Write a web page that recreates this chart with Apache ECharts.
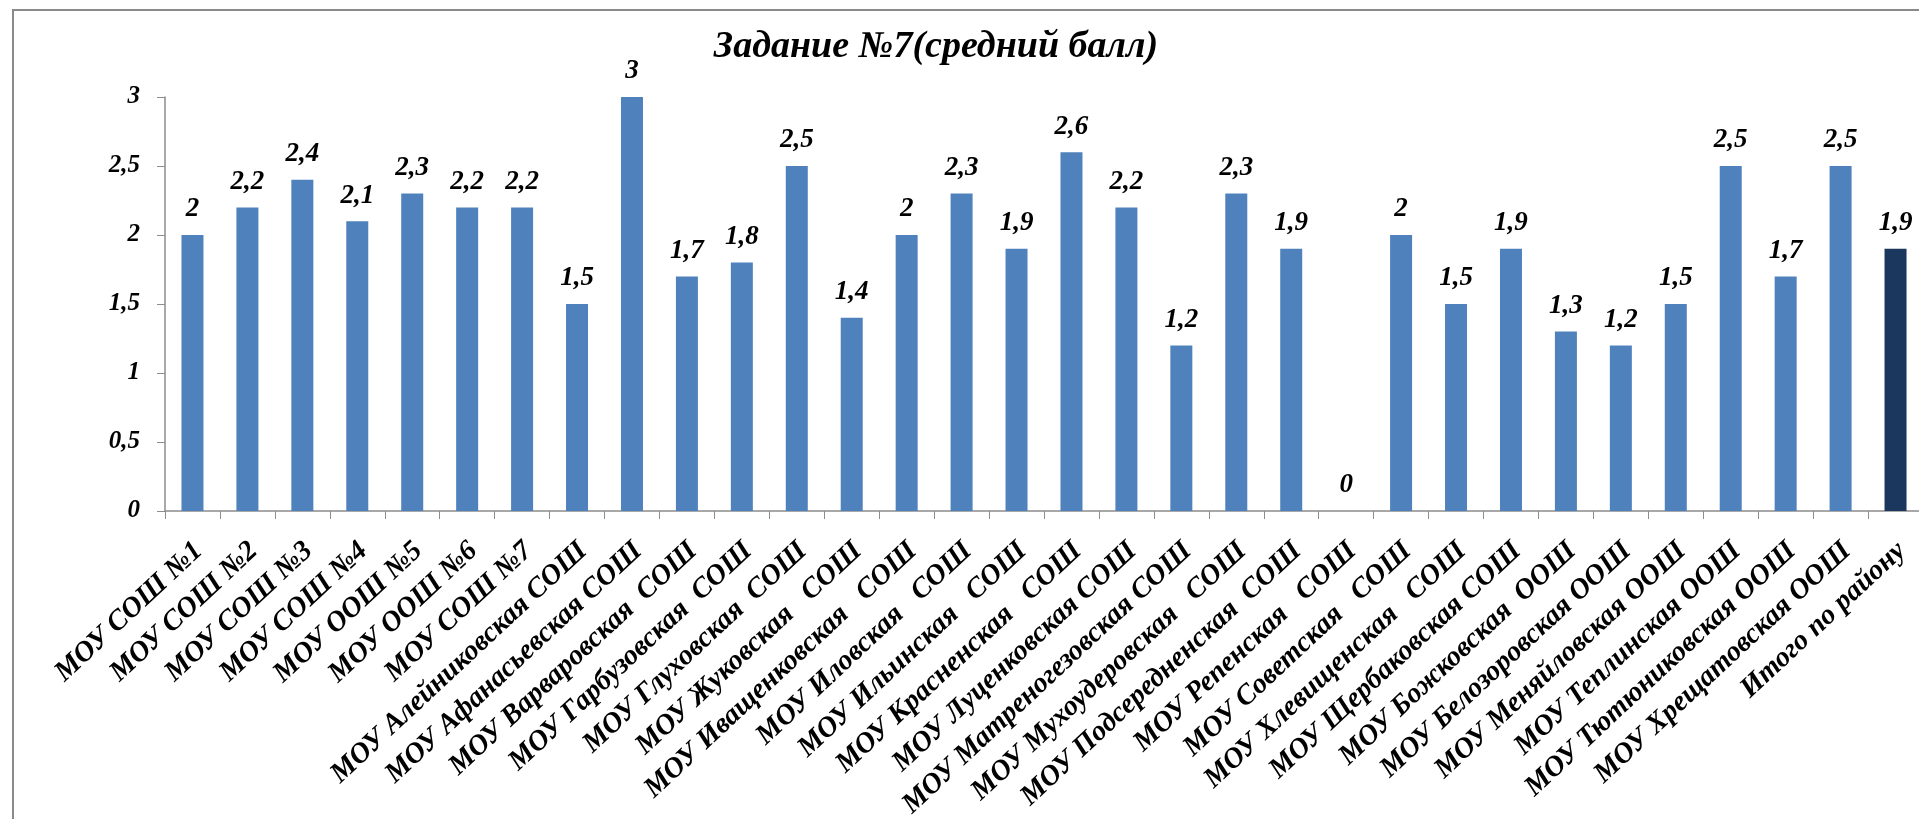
<!DOCTYPE html>
<html><head><meta charset="utf-8">
<script src="https://cdn.jsdelivr.net/npm/echarts@6/dist/echarts.min.js"></script>
<style>html,body{margin:0;padding:0;background:#fff}#c{width:1919px;height:819px}</style>
</head><body><div id="c"></div>
<script>
const title = 'Задание №7(средний балл)';
const categories = [
  'МОУ СОШ №1','МОУ СОШ №2','МОУ СОШ №3','МОУ СОШ №4','МОУ ООШ №5','МОУ ООШ №6','МОУ СОШ №7',
  'МОУ Алейниковская СОШ','МОУ Афанасьевская СОШ','МОУ Варваровская  СОШ','МОУ Гарбузовская  СОШ',
  'МОУ Глуховская  СОШ','МОУ Жуковская   СОШ','МОУ Иващенковская   СОШ','МОУ Иловская   СОШ',
  'МОУ Ильинская   СОШ','МОУ Красненская   СОШ','МОУ Луценковская СОШ','МОУ Матреногезовская СОШ',
  'МОУ Мухоудеровская   СОШ','МОУ Подсередненская  СОШ','МОУ Репенская   СОШ','МОУ Советская   СОШ',
  'МОУ Хлевищенская   СОШ','МОУ Щербаковская СОШ','МОУ Божковская  ООШ','МОУ Белозоровская ООШ',
  'МОУ Меняйловская ООШ','МОУ Теплинская ООШ','МОУ Тютюниковская ООШ','МОУ Хрещатовская ООШ','Итого по району'
];
const values = [2,2.2,2.4,2.1,2.3,2.2,2.2,1.5,3,1.7,1.8,2.5,1.4,2,2.3,1.9,2.6,2.2,1.2,2.3,1.9,0,2,1.5,1.9,1.3,1.2,1.5,2.5,1.7,2.5,1.9];
const yTicks = {min:0, max:3, interval:0.5};

const fontFam = 'Liberation Serif';
const data = values.map((v,i)=>({value:v, itemStyle:{color: i===values.length-1 ? '#1b375e' : '#4f81bd'}}));
const fmt = v => String(v).replace('.', ',');

const chart = echarts.init(document.getElementById('c'), null, {renderer:'canvas'});
chart.setOption({
  animation:false,
  backgroundColor:'#fff',
  graphic:[{type:'rect', shape:{x:13,y:10,width:2000,height:2000}, style:{fill:'none', stroke:'#8a8a8a', lineWidth:2}, silent:true}],
  title:{text:title, left:931, top:23, textAlign:'center',
    textStyle:{fontFamily:fontFam, fontStyle:'italic', fontWeight:'bold', fontSize:38, color:'#000'}},
  grid:{left:165, top:97, width:1758, height:414, containLabel:false, outerBoundsMode:'none'},
  xAxis:{type:'category', data:categories, boundaryGap:true,
    axisLine:{lineStyle:{color:'#8c8c8c', width:1.5}},
    axisTick:{show:true, alignWithLabel:false, length:8, lineStyle:{color:'#8c8c8c'}},
    axisLabel:{interval:0, rotate:43, margin:22, verticalAlign:'top', padding:[0,5,0,0], color:'#000', fontFamily:fontFam, fontStyle:'italic', fontWeight:'bold', fontSize:28.5}},
  yAxis:{type:'value', min:yTicks.min, max:yTicks.max, interval:yTicks.interval,
    splitLine:{show:false},
    axisLine:{show:true, lineStyle:{color:'#8c8c8c', width:1.5}},
    axisTick:{show:true, length:8, lineStyle:{color:'#8c8c8c'}},
    axisLabel:{margin:25, color:'#000', fontFamily:fontFam, fontStyle:'italic', fontWeight:'bold', fontSize:25, formatter:fmt}},
  series:[{type:'bar', data:data, barWidth:22,
    label:{show:true, position:'top', distance:12, color:'#000', fontFamily:fontFam, fontStyle:'italic', fontWeight:'bold', fontSize:27, formatter:p=>fmt(p.value)}}]
});
</script></body></html>
